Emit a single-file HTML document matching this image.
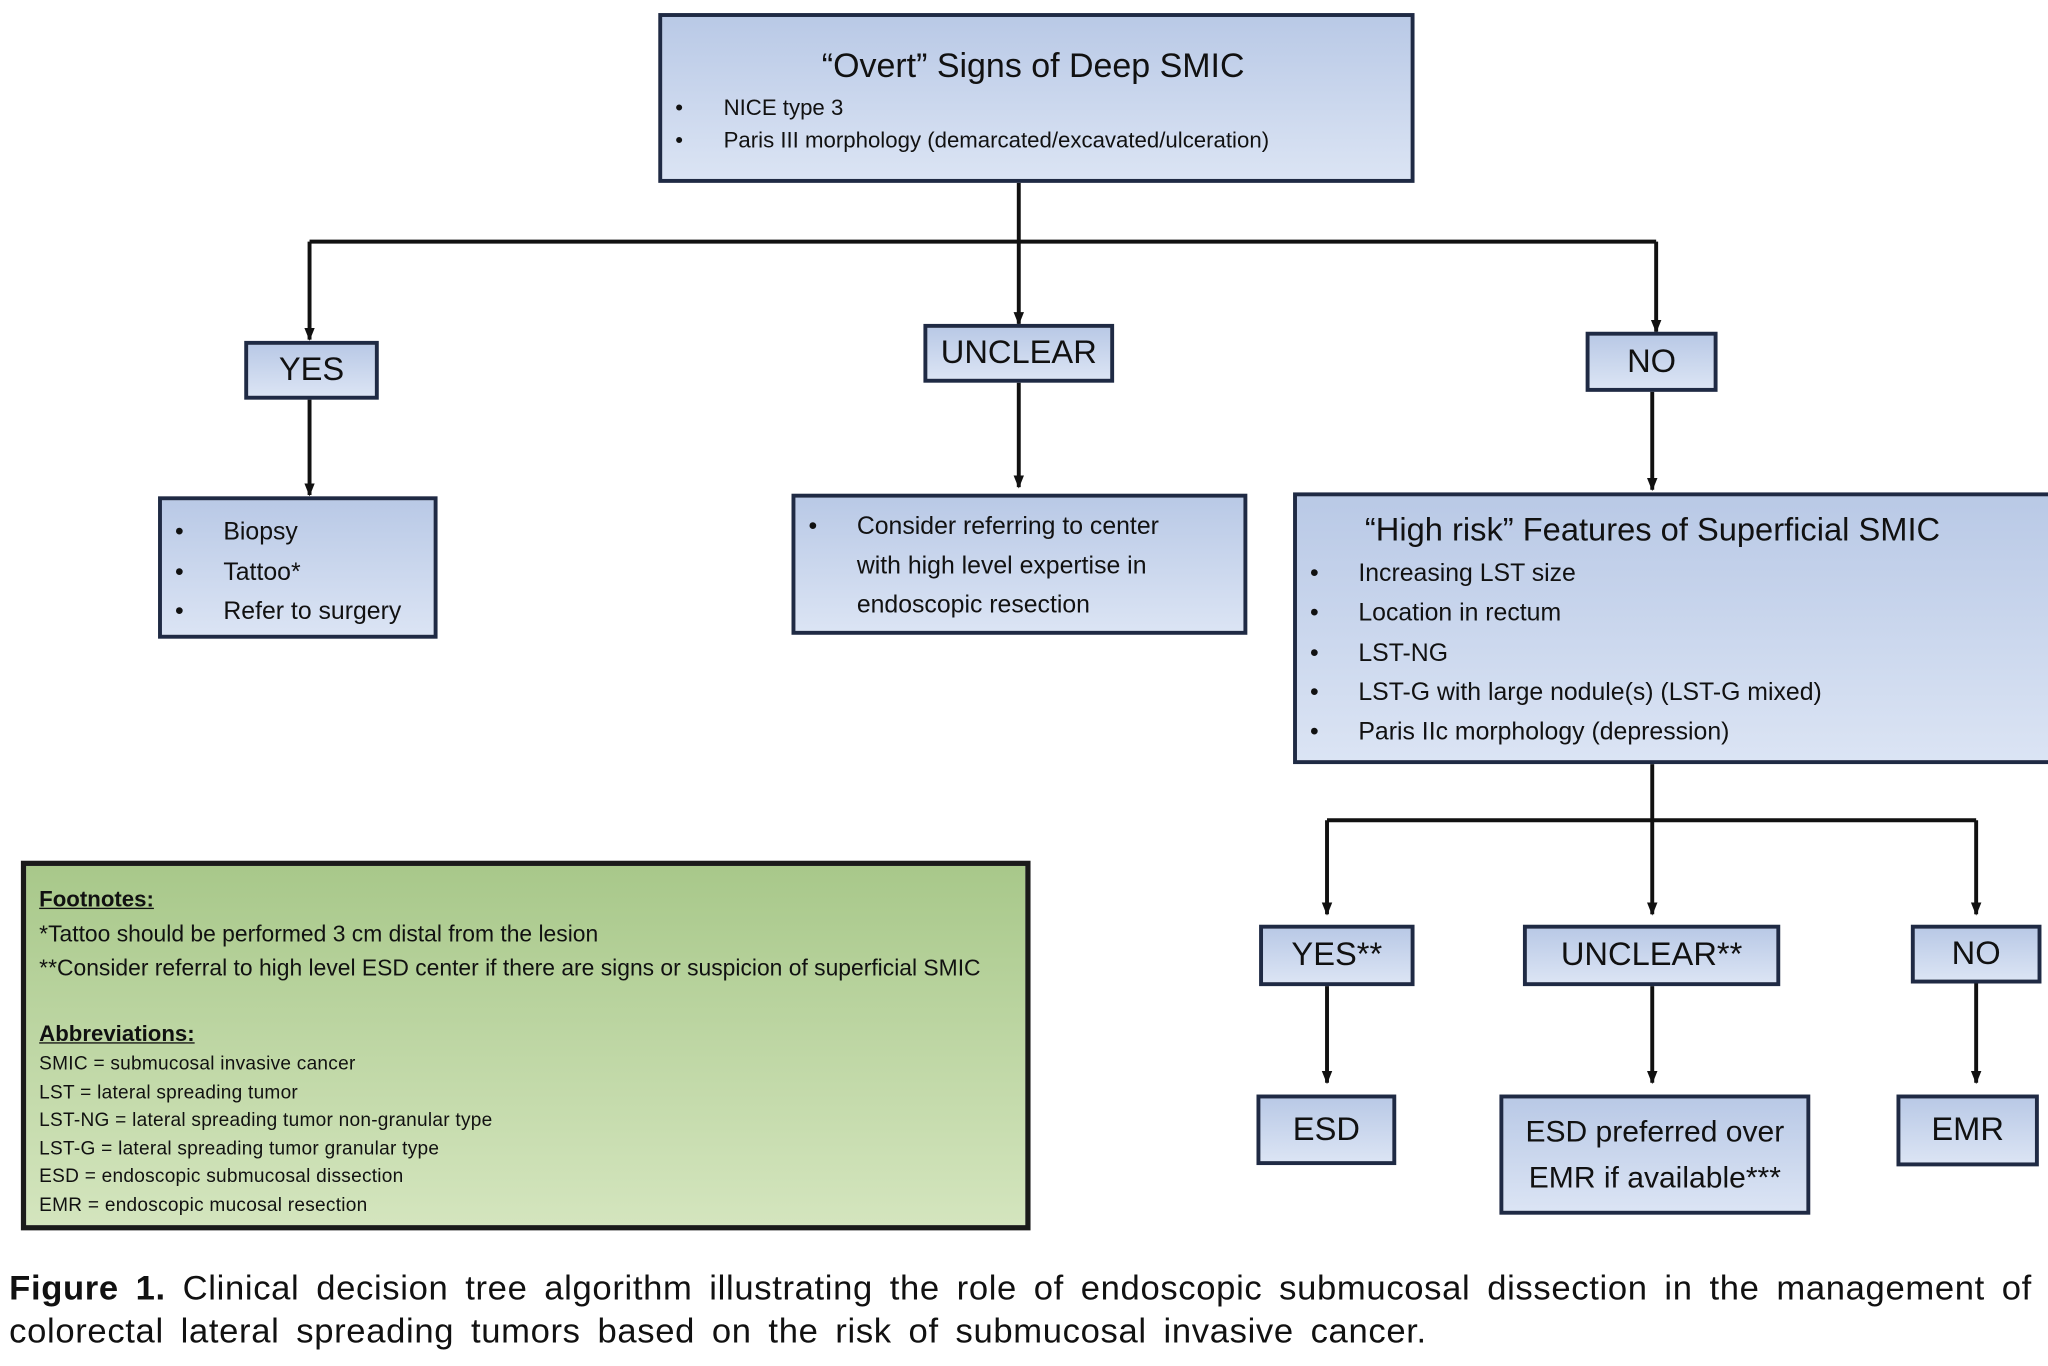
<!DOCTYPE html>
<html><head><meta charset="utf-8"><style>
html,body{margin:0;padding:0;background:#fff;width:2048px;height:1366px;overflow:hidden}
#w{position:absolute;left:0;top:0;width:1568px;height:1046px;transform:scale(1.30612);transform-origin:0 0;font-family:"Liberation Sans",sans-serif;color:#111}
.b{position:absolute;box-sizing:border-box;border:3px solid #1f2a44;background:linear-gradient(#b9c9e6,#dbe4f4)}
.c{display:flex;align-items:center;justify-content:center;font-size:25px}
ul{margin:0;padding:0;list-style:none}
li{position:relative;padding-left:47px}
li:before{content:"•";position:absolute;left:10px}
.g{position:absolute;left:16px;top:659px;width:773px;height:283px;box-sizing:border-box;border:4px solid #1a1a1a;background:linear-gradient(#a8c88a,#d4e5be);padding:12px 10px;font-size:17.5px;line-height:26px;letter-spacing:0px}
.sm{font-size:14.6px;line-height:21.5px;letter-spacing:0.2px}
u{font-weight:bold;font-size:17px}
.cap{position:absolute;left:7px;top:970px;font-size:26.5px;line-height:33px;white-space:nowrap;letter-spacing:0.5px;word-spacing:5px}
</style></head><body><div id="w">
<svg width="1568" height="1046" style="position:absolute;left:0;top:0">
<defs><marker id="a" markerWidth="12" markerHeight="12" refX="9" refY="5" orient="auto" markerUnits="userSpaceOnUse"><path d="M0,1 L10,5 L0,9 Z" fill="#111"/></marker></defs>
<g stroke="#111" stroke-width="3" fill="none">
<path d="M780 140V185M237 185H1268"/>
<path d="M237 185V260" marker-end="url(#a)"/>
<path d="M780 185V248" marker-end="url(#a)"/>
<path d="M1268 185V254" marker-end="url(#a)"/>
<path d="M237 306V379" marker-end="url(#a)"/>
<path d="M780 293V373" marker-end="url(#a)"/>
<path d="M1265 300V375" marker-end="url(#a)"/>
<path d="M1265 585V628M1016 628H1513"/>
<path d="M1016 628V700" marker-end="url(#a)"/>
<path d="M1265 628V700" marker-end="url(#a)"/>
<path d="M1513 628V700" marker-end="url(#a)"/>
<path d="M1016 755V829" marker-end="url(#a)"/>
<path d="M1265 755V829" marker-end="url(#a)"/>
<path d="M1513 753V829" marker-end="url(#a)"/>
</g></svg>
<div class="b" style="left:504px;top:10px;width:579px;height:130px">
<div style="text-align:center;font-size:26px;margin-top:22px;margin-left:-5px">“Overt” Signs of Deep SMIC</div>
<ul style="font-size:17px;line-height:25px;margin-top:4px"><li>NICE type 3</li><li>Paris III morphology (demarcated/excavated/ulceration)</li></ul></div>
<div class="b c" style="left:187px;top:261px;width:103px;height:45px">YES</div>
<div class="b c" style="left:707px;top:248px;width:146px;height:45px">UNCLEAR</div>
<div class="b c" style="left:1214px;top:254px;width:101px;height:46px">NO</div>
<div class="b" style="left:121px;top:380px;width:214px;height:109px;padding-top:10px"><ul style="font-size:19px;line-height:30.5px"><li>Biopsy</li><li>Tattoo*</li><li>Refer to surgery</li></ul></div>
<div class="b" style="left:606px;top:378px;width:349px;height:108px;padding-top:8px"><ul style="font-size:19px;line-height:30px"><li>Consider referring to center<br>with high level expertise in<br>endoscopic resection</li></ul></div>
<div class="b" style="left:990px;top:377px;width:590px;height:208px">
<div style="font-size:25px;margin:12px 0 0 52px">“High risk” Features of Superficial SMIC</div>
<ul style="font-size:19px;line-height:30.3px;margin-top:4px"><li>Increasing LST size</li><li>Location in rectum</li><li>LST-NG</li><li>LST-G with large nodule(s) (LST-G mixed)</li><li>Paris IIc morphology (depression)</li></ul></div>
<div class="b c" style="left:964px;top:708px;width:119px;height:47px">YES**</div>
<div class="b c" style="left:1166px;top:708px;width:197px;height:47px">UNCLEAR**</div>
<div class="b c" style="left:1463px;top:708px;width:100px;height:45px">NO</div>
<div class="b c" style="left:962px;top:838px;width:107px;height:54px">ESD</div>
<div class="b c" style="left:1148px;top:838px;width:238px;height:92px;text-align:center;line-height:35px;font-size:23px">ESD preferred over<br>EMR if available***</div>
<div class="b c" style="left:1452px;top:838px;width:109px;height:55px">EMR</div>
<div class="g"><u>Footnotes:</u><br>*Tattoo should be performed 3 cm distal from the lesion<br>**Consider referral to high level ESD center if there are signs or suspicion of superficial SMIC<br><div style="height:24px"></div><u>Abbreviations:</u><div class="sm">SMIC = submucosal invasive cancer<br>LST = lateral spreading tumor<br>LST-NG = lateral spreading tumor non-granular type<br>LST-G = lateral spreading tumor granular type<br>ESD = endoscopic submucosal dissection<br>EMR = endoscopic mucosal resection</div></div>
<div class="cap"><b>Figure 1.</b> Clinical decision tree algorithm illustrating the role of endoscopic submucosal dissection in the management of<br>colorectal lateral spreading tumors based on the risk of submucosal invasive cancer.</div>
</div></body></html>
